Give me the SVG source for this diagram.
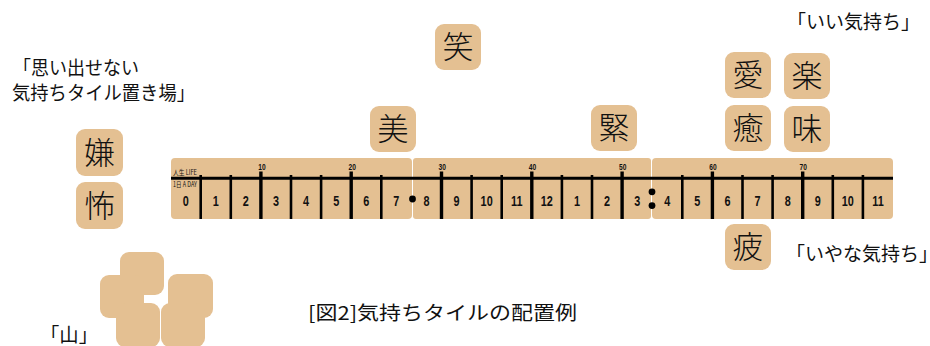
<svg xmlns="http://www.w3.org/2000/svg" width="930" height="346" viewBox="0 0 930 346">
<style>
.tile{fill:#E4C092}
.kj{font-family:"Noto Sans CJK JP","Noto Sans CJK SC",sans-serif;font-weight:300;font-size:31px;fill:#111;text-anchor:middle}
.lbl{font-family:"Noto Sans CJK JP","Noto Sans CJK SC",sans-serif;font-size:19px;fill:#111}
.dg{font-family:"Liberation Sans",Arial,sans-serif;font-weight:bold;font-size:15.5px;fill:#111;text-anchor:middle}
.age{font-family:"Liberation Sans",Arial,sans-serif;font-weight:bold;font-size:8.5px;fill:#111;text-anchor:middle}
.sm{font-family:"Noto Sans CJK JP","Noto Sans CJK SC",sans-serif;font-size:7px;fill:#111}
.tk{stroke:#000;stroke-width:2.6}
.tkb{stroke:#000;stroke-width:3.4}
</style>
<rect width="930" height="346" fill="#fff"/>

<g id="ruler">
  <rect class="tile" x="171" y="158" width="241" height="61" rx="4"/>
  <rect class="tile" x="413" y="158" width="238" height="61" rx="3"/>
  <rect class="tile" x="652" y="158" width="241" height="61" rx="4"/>
  <line x1="171" y1="178.3" x2="893" y2="178.3" stroke="#000" stroke-width="3"/>
  <g>
    <line class="tk" x1="200.7" y1="175" x2="200.7" y2="219"/>
    <line class="tk" x1="230.8" y1="175" x2="230.8" y2="219"/>
    <line class="tkb" x1="260.9" y1="171.5" x2="260.9" y2="219"/>
    <line class="tk" x1="291.0" y1="175" x2="291.0" y2="219"/>
    <line class="tk" x1="321.1" y1="175" x2="321.1" y2="219"/>
    <line class="tkb" x1="351.2" y1="171.5" x2="351.2" y2="219"/>
    <line class="tk" x1="381.3" y1="175" x2="381.3" y2="219"/>
    <line class="tkb" x1="441.5" y1="171.5" x2="441.5" y2="219"/>
    <line class="tk" x1="471.6" y1="175" x2="471.6" y2="219"/>
    <line class="tk" x1="501.7" y1="175" x2="501.7" y2="219"/>
    <line class="tkb" x1="531.8" y1="171.5" x2="531.8" y2="219"/>
    <line class="tk" x1="561.9" y1="175" x2="561.9" y2="219"/>
    <line class="tk" x1="592.0" y1="175" x2="592.0" y2="219"/>
    <line class="tkb" x1="622.1" y1="171.5" x2="622.1" y2="219"/>
    <line class="tk" x1="682.3" y1="175" x2="682.3" y2="219"/>
    <line class="tkb" x1="712.4" y1="171.5" x2="712.4" y2="219"/>
    <line class="tk" x1="742.5" y1="175" x2="742.5" y2="219"/>
    <line class="tk" x1="772.6" y1="175" x2="772.6" y2="219"/>
    <line class="tkb" x1="802.7" y1="171.5" x2="802.7" y2="219"/>
    <line class="tk" x1="832.8" y1="175" x2="832.8" y2="219"/>
    <line class="tk" x1="862.9" y1="175" x2="862.9" y2="219"/>
  </g>
  <circle cx="412.5" cy="199" r="3.4" fill="#000"/>
  <circle cx="652" cy="191.8" r="3.4" fill="#000"/>
  <circle cx="652" cy="205.6" r="3.4" fill="#000"/>
  <text class="sm" x="173" y="175.3" textLength="24" lengthAdjust="spacingAndGlyphs">人生 LIFE</text>
  <text class="sm" x="173" y="186.5" textLength="24" lengthAdjust="spacingAndGlyphs">1日 A DAY</text>
  <g>
    <text class="age" transform="translate(262,170) scale(0.78,1)">10</text>
    <text class="age" transform="translate(352.2,170) scale(0.78,1)">20</text>
    <text class="age" transform="translate(442.3,170) scale(0.78,1)">30</text>
    <text class="age" transform="translate(532.5,170) scale(0.78,1)">40</text>
    <text class="age" transform="translate(622.8,170) scale(0.78,1)">50</text>
    <text class="age" transform="translate(713,170) scale(0.78,1)">60</text>
    <text class="age" transform="translate(803.3,170) scale(0.78,1)">70</text>
  </g>
  <g>
    <text class="dg" transform="translate(185.65,205.5) scale(0.7,1)">0</text>
    <text class="dg" transform="translate(215.75,205.5) scale(0.7,1)">1</text>
    <text class="dg" transform="translate(245.85,205.5) scale(0.7,1)">2</text>
    <text class="dg" transform="translate(275.95,205.5) scale(0.7,1)">3</text>
    <text class="dg" transform="translate(306.05,205.5) scale(0.7,1)">4</text>
    <text class="dg" transform="translate(336.15,205.5) scale(0.7,1)">5</text>
    <text class="dg" transform="translate(366.25,205.5) scale(0.7,1)">6</text>
    <text class="dg" transform="translate(396.35,205.5) scale(0.7,1)">7</text>
    <text class="dg" transform="translate(426.45,205.5) scale(0.7,1)">8</text>
    <text class="dg" transform="translate(456.55,205.5) scale(0.7,1)">9</text>
    <text class="dg" transform="translate(486.65,205.5) scale(0.7,1)">10</text>
    <text class="dg" transform="translate(516.75,205.5) scale(0.7,1)">11</text>
    <text class="dg" transform="translate(546.85,205.5) scale(0.7,1)">12</text>
    <text class="dg" transform="translate(576.95,205.5) scale(0.7,1)">1</text>
    <text class="dg" transform="translate(607.05,205.5) scale(0.7,1)">2</text>
    <text class="dg" transform="translate(637.15,205.5) scale(0.7,1)">3</text>
    <text class="dg" transform="translate(667.25,205.5) scale(0.7,1)">4</text>
    <text class="dg" transform="translate(697.35,205.5) scale(0.7,1)">5</text>
    <text class="dg" transform="translate(727.45,205.5) scale(0.7,1)">6</text>
    <text class="dg" transform="translate(757.55,205.5) scale(0.7,1)">7</text>
    <text class="dg" transform="translate(787.65,205.5) scale(0.7,1)">8</text>
    <text class="dg" transform="translate(817.75,205.5) scale(0.7,1)">9</text>
    <text class="dg" transform="translate(847.85,205.5) scale(0.7,1)">10</text>
    <text class="dg" transform="translate(877.95,205.5) scale(0.7,1)">11</text>
  </g>
</g>

<g id="tile-warau"><rect class="tile" x="435" y="24" width="46" height="46" rx="9"/><text class="kj" x="458" y="58">笑</text></g>
<g id="tile-bi"><rect class="tile" x="370" y="106" width="46" height="46" rx="9"/><text class="kj" x="393" y="140">美</text></g>
<g id="tile-kin"><rect class="tile" x="591" y="105" width="46" height="46" rx="9"/><text class="kj" x="614" y="139">緊</text></g>
<g id="tile-ai"><rect class="tile" x="725" y="52" width="46" height="46" rx="9"/><text class="kj" x="748" y="86">愛</text></g>
<g id="tile-raku"><rect class="tile" x="784" y="53" width="46" height="46" rx="9"/><text class="kj" x="807" y="87">楽</text></g>
<g id="tile-iyasu"><rect class="tile" x="725" y="105" width="46" height="46" rx="9"/><text class="kj" x="748" y="139">癒</text></g>
<g id="tile-aji"><rect class="tile" x="784" y="106" width="46" height="46" rx="9"/><text class="kj" x="807" y="140">味</text></g>
<g id="tile-hi"><rect class="tile" x="725" y="224" width="46" height="46" rx="9"/><text class="kj" x="748" y="258">疲</text></g>
<g id="tile-ken"><rect class="tile" x="76" y="129" width="47" height="47" rx="9"/><text class="kj" x="99.5" y="164">嫌</text></g>
<g id="tile-fu"><rect class="tile" x="76" y="182" width="47" height="47" rx="9"/><text class="kj" x="99.5" y="217">怖</text></g>

<g id="mountain">
  <rect class="tile" x="120" y="252" width="44" height="43" rx="9"/>
  <rect class="tile" x="100" y="275" width="44" height="43" rx="9"/>
  <rect class="tile" x="168" y="274" width="45" height="44" rx="9"/>
  <rect class="tile" x="116" y="303" width="44" height="44" rx="9"/>
  <rect class="tile" x="161" y="303" width="44" height="44" rx="9"/>
</g>

<g id="labels">
  <text class="lbl" x="787" y="28.5" textLength="133" lengthAdjust="spacingAndGlyphs">「いい気持ち」</text>
  <text class="lbl" x="13" y="75" textLength="126" lengthAdjust="spacingAndGlyphs">「思い出せない</text>
  <text class="lbl" x="12" y="100" textLength="183" lengthAdjust="spacingAndGlyphs">気持ちタイル置き場」</text>
  <text class="lbl" x="786" y="261" font-size="17">「いやな気持ち」</text>
  <text class="lbl" x="40" y="342" textLength="58" lengthAdjust="spacingAndGlyphs">「山」</text>
  <text class="lbl" x="308" y="319.5" font-size="22" textLength="269" lengthAdjust="spacingAndGlyphs">[図2]気持ちタイルの配置例</text>
</g>
</svg>
